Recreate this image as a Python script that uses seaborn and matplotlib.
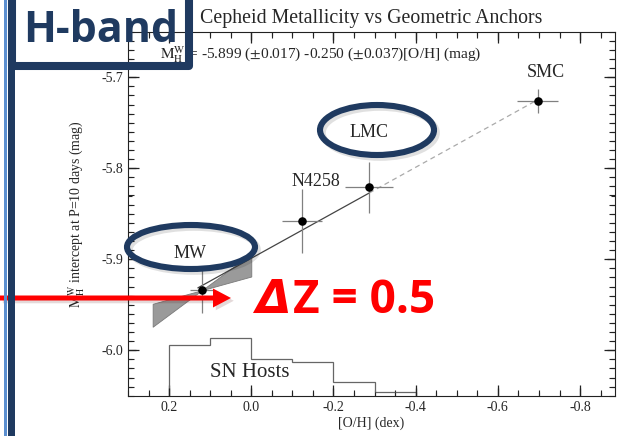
import numpy as np
import matplotlib
matplotlib.use("Agg")
import matplotlib.pyplot as plt
import matplotlib.patheffects as pe
from matplotlib.patches import Ellipse, Rectangle, FancyArrow
from matplotlib.ticker import MultipleLocator, FixedLocator, FixedFormatter
from matplotlib.transforms import Affine2D, blended_transform_factory
import pandas as pd
import seaborn as sns

# Geometric anchors: metallicity and P=10 d intercept
anchors = ["MW", "N4258", "LMC", "SMC"]
oh = [0.120, -0.124, -0.287, -0.697]
mag = [-5.934, -5.858, -5.821, -5.726]
oh_err = [0.030, 0.049, 0.058, 0.050]
mag_err = [0.025, 0.035, 0.028, 0.013]

# Linear fit quoted on the panel
fit_zp = -5.899
fit_slope = -0.250

# MW-only slope bounds (bow-tie around the MW point)
mw_slopes = [-0.125, -0.335]
mw_span = [0.24, 0.0]

# SN host metallicity histogram
host_edges = [0.2, 0.1, 0.0, -0.1, -0.2, -0.3, -0.4]
host_counts = [15, 17, 11, 10, 4, 1]

x_ticks = [0.2, 0.0, -0.2, -0.4, -0.6, -0.8]
x_ticklabels = ["0.2", "0.0", "-0.2", "-0.4", "-0.6", "-0.8"]
y_ticks = [-5.7, -5.8, -5.9, -6.0]
y_ticklabels = ["-5.7", "-5.8", "-5.9", "-6.0"]

NAVY = "#1F3A60"
TICK = "#222222"

sns.set_theme(style="ticks")
plt.rcParams.update({
    "font.family": ["Liberation Serif", "DejaVu Serif"],
    "mathtext.fontset": "stix",
    "axes.unicode_minus": False,
    "axes.edgecolor": TICK,
    "axes.linewidth": 0.8,
    "xtick.direction": "in",
    "ytick.direction": "in",
})

W, H = 618, 436
ax_left, ax_right, ax_top, ax_bottom = 128, 615, 31.7, 395.7
fig = plt.figure(figsize=(W / 100, H / 100), dpi=100)
ax = fig.add_axes([ax_left / W, 1 - ax_bottom / H,
                   (ax_right - ax_left) / W, (ax_bottom - ax_top) / H])

df = pd.DataFrame({"anchor": anchors, "oh": oh, "mag": mag,
                   "oh_err": oh_err, "mag_err": mag_err})

# uncertainty bow-tie
xs = np.linspace(mw_span[0], mw_span[1], 50)
y1 = mag[0] + mw_slopes[0] * (xs - oh[0])
y2 = mag[0] + mw_slopes[1] * (xs - oh[0])
ax.fill_between(xs, y1, y2, color="#9a9a9a", edgecolor="#7a7a7a", lw=0.6, zorder=2)

# fit line: solid over the calibrated range, dashed extrapolation to SMC
x_solid = np.array([oh[0] + 0.01, oh[2]])
x_dash = np.array([oh[2], oh[3]])
sns.lineplot(x=x_solid, y=fit_zp + fit_slope * x_solid, ax=ax, color="#444444",
             lw=0.9, zorder=3, sort=False)
sns.lineplot(x=x_dash, y=fit_zp + fit_slope * x_dash, ax=ax, color="#aaaaaa",
             lw=0.9, ls=(0, (4, 3)), zorder=3, sort=False)

ax.errorbar(df["oh"], df["mag"], xerr=df["oh_err"], yerr=df["mag_err"],
            fmt="none", ecolor="#808080", elinewidth=0.9, capsize=0, zorder=4)
sns.scatterplot(data=df, x="oh", y="mag", ax=ax, color="black", s=38,
                edgecolor="black", linewidth=0, zorder=5)

# SN host histogram drawn along the bottom of the panel
ylo = -6.05
scale = 0.0037
ax.stairs(ylo + np.array(host_counts) * scale, host_edges, baseline=ylo,
          color="#666666", lw=0.9, zorder=2)

ax.set_xlabel("[O/H] (dex)", fontsize=10, labelpad=2)
ax.set_ylabel(r"$\mathrm{M_H^W}$ intercept at P=10 days (mag)", fontsize=10, labelpad=10)
ax.set_title("Cepheid Metallicity vs Geometric Anchors", fontsize=14.3, pad=6)

ax.text(0.066, 0.936,
        r"$\mathrm{M_H^W}$ = -5.899 ($\pm$0.017) -0.250 ($\pm$0.037)[O/H] (mag)",
        transform=ax.transAxes, fontsize=11.1, ha="left", va="center")

label_pos = {"MW": (0.150, -5.894), "N4258": (-0.158, -5.815),
             "LMC": (-0.287, -5.761), "SMC": (-0.716, -5.695)}
for name, (lx, ly) in label_pos.items():
    ax.text(lx, ly, name, fontsize=13, ha="center", va="center", zorder=6)
ax.text(0.004, -6.025, "SN Hosts", fontsize=15, ha="center", va="center")

# axis limits, labels and inward ticks on all four sides
xlim = (0.3, -0.885)
ylim = (-6.05, -5.65)
ax.set_xlim(*xlim)
ax.set_ylim(*ylim)
ax.xaxis.set_major_locator(FixedLocator(x_ticks))
ax.xaxis.set_major_formatter(FixedFormatter(x_ticklabels))
ax.xaxis.set_minor_locator(MultipleLocator(0.05))
ax.yaxis.set_major_locator(FixedLocator(y_ticks))
ax.yaxis.set_major_formatter(FixedFormatter(y_ticklabels))
ax.yaxis.set_minor_locator(MultipleLocator(0.01))
ax.tick_params(which="both", top=True, right=True, bottom=True, left=True,
               direction="in", labelsize=10, color=TICK)
ax.tick_params(which="major", length=8, width=0.9)
ax.tick_params(which="minor", length=4, width=0.8)

# explicit tick strokes so the inward ticks are always drawn
ax_w, ax_h = ax_right - ax_left, ax_bottom - ax_top
bx = blended_transform_factory(ax.transData, ax.transAxes)
by = blended_transform_factory(ax.transAxes, ax.transData)
x_minor = [v for v in np.round(np.arange(0.3, -0.9, -0.05), 3)
           if xlim[1] < v < xlim[0] and not np.isclose(v, x_ticks).any()]
y_minor = [v for v in np.round(np.arange(-6.05, -5.649, 0.01), 3)
           if ylim[0] < v < ylim[1] and not np.isclose(v, y_ticks).any()]
for pos, length, lw in [(x_ticks, 8, 0.9), (x_minor, 4, 0.8)]:
    f = length / ax_h
    ax.vlines(pos, 0, f, transform=bx, color=TICK, lw=lw, zorder=6, clip_on=False)
    ax.vlines(pos, 1 - f, 1, transform=bx, color=TICK, lw=lw, zorder=6, clip_on=False)
for pos, length, lw in [(y_ticks, 8, 0.9), (y_minor, 4, 0.8)]:
    f = length / ax_w
    ax.hlines(pos, 0, f, transform=by, color=TICK, lw=lw, zorder=6, clip_on=False)
    ax.hlines(pos, 1 - f, 1, transform=by, color=TICK, lw=lw, zorder=6, clip_on=False)
ax.set_xlim(*xlim)
ax.set_ylim(*ylim)

# presentation overlay, positioned in pixels from the top-left corner
px = Affine2D().scale(1 / W, -1 / H).translate(0, 1) + fig.transFigure

shadow = [pe.SimpleLineShadow(offset=(2, -2), shadow_color="black", alpha=0.12),
          pe.Normal()]
for (cx, cy, w, h) in [(191, 247, 128, 44), (377, 130, 114, 50)]:
    e = Ellipse((cx, cy), w, h, fill=False, edgecolor=NAVY, lw=4.4,
                transform=px, zorder=20)
    e.set_path_effects(shadow)
    fig.add_artist(e)

arrow = FancyArrow(0, 298, 231, 0, width=5, head_width=19, head_length=18,
                   length_includes_head=True, color="#ff0000", lw=0,
                   transform=px, zorder=20)
arrow.set_path_effects([pe.SimplePatchShadow(offset=(2, -2), alpha=0.15), pe.Normal()])
fig.add_artist(arrow)

fig.text(255, 300, "Δ", color="#ff0000", fontsize=33, fontweight="bold",
         style="oblique", family=["DejaVu Sans"], ha="left", va="center",
         transform=px, zorder=21)
fig.text(293, 300, "Z = 0.5", color="#ff0000", fontsize=33, fontweight="bold",
         family=["Open Sans", "DejaVu Sans"], ha="left", va="center",
         transform=px, zorder=21)

# side bars and label frame
fig.add_artist(Rectangle((3.5, 0), 3, H, color="#5b8fd0", lw=0, transform=px, zorder=20))
fig.add_artist(Rectangle((8, 0), 7, H, color=NAVY, lw=0, transform=px, zorder=20))
fig.add_artist(Rectangle((11.5, -20), 177.5, 86, fill=False, edgecolor=NAVY, lw=5.8,
                         joinstyle="round", transform=px, zorder=20))
fig.text(23, 30, "H-band", color=NAVY, fontsize=31, fontweight="bold",
         family=["Open Sans", "DejaVu Sans"], ha="left", va="center",
         transform=px, zorder=21)

fig.savefig("out.png", dpi=100)
